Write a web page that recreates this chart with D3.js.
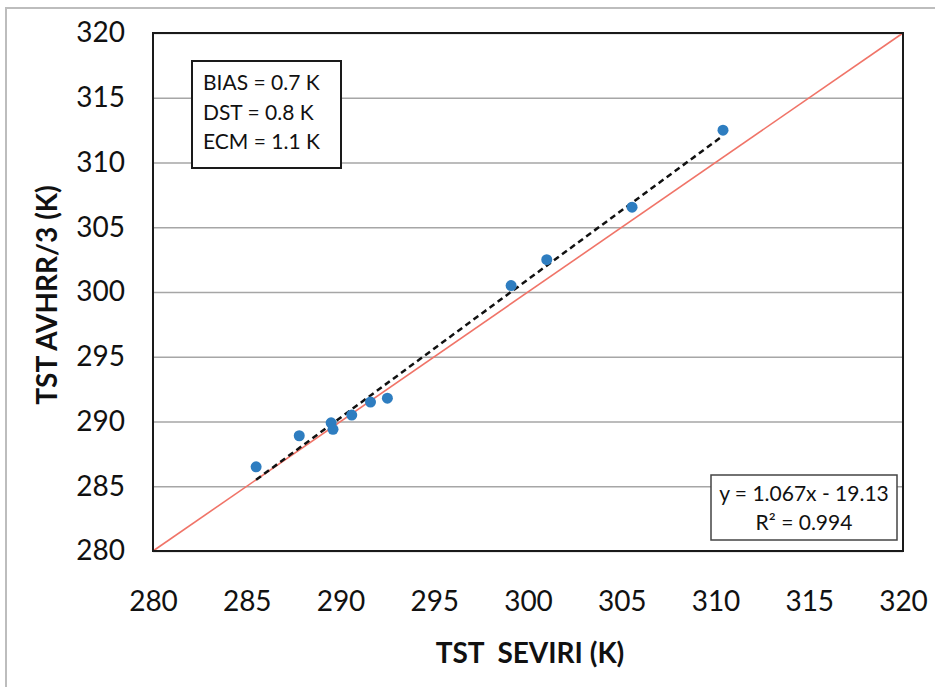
<!DOCTYPE html>
<html>
<head>
<meta charset="utf-8">
<script src="https://cdn.jsdelivr.net/npm/d3@7"></script>
<style>
  body { margin: 0; background: #fff; }
  text { font-family: Lato, "Open Sans", sans-serif; fill: #111; }
</style>
</head>
<body>
<div id="chart"></div>
<script>
// values
const seviri = [285.5, 287.8, 289.5, 289.6, 290.6, 291.6, 292.5, 299.1, 301.0, 305.55, 310.4];
const avhrr  = [286.5, 288.9, 289.9, 289.4, 290.5, 291.5, 291.8, 300.5, 302.5, 306.55, 312.5];
const ticks = [280, 285, 290, 295, 300, 305, 310, 315, 320];
const stats = ["BIAS = 0.7 K", "DST = 0.8 K", "ECM = 1.1 K"];
const fit = {slope: 1.067, intercept: -19.13, r2: 0.994};

const W = 935, H = 687;
const margin = {top: 33, right: 32, bottom: 136, left: 153};
const width = W - margin.left - margin.right;
const height = H - margin.top - margin.bottom;

const svg = d3.select("#chart").append("svg")
  .attr("width", W)
  .attr("height", H);

// outer chart frame (runs off the page at right and bottom)
svg.append("rect")
  .attr("x", 6).attr("y", 8)
  .attr("width", W).attr("height", H)
  .attr("fill", "none")
  .attr("stroke", "#bdbdbd")
  .attr("stroke-width", 2);

const g = svg.append("g")
  .attr("transform", "translate(" + margin.left + "," + margin.top + ")");

const x = d3.scaleLinear().domain([280, 320]).range([0, width]);
const y = d3.scaleLinear().domain([280, 320]).range([height, 0]);

// horizontal gridlines
g.append("g")
  .call(d3.axisLeft(y).tickValues(ticks).tickSize(-width).tickFormat(""))
  .call(a => a.select(".domain").remove())
  .call(a => a.selectAll("line").attr("stroke", "#a6a6a6").attr("stroke-width", 1.5));

// tick labels
g.append("g")
  .call(d3.axisLeft(y).tickValues(ticks).tickSize(0).tickPadding(28))
  .call(a => a.select(".domain").remove())
  .call(a => a.selectAll("text").attr("font-size", 28).style("font-family", "Lato"));

g.append("g")
  .attr("transform", "translate(0," + height + ")")
  .call(d3.axisBottom(x).tickValues(ticks).tickSize(0).tickPadding(40))
  .call(a => a.select(".domain").remove())
  .call(a => a.selectAll("text").attr("font-size", 28).style("font-family", "Lato"));

// 1:1 line
g.append("line")
  .attr("x1", x(280)).attr("y1", y(280))
  .attr("x2", x(320)).attr("y2", y(320))
  .attr("stroke", "#f07468")
  .attr("stroke-width", 1.6);

// trend line
const xmin = d3.min(seviri), xmax = d3.max(seviri);
g.append("line")
  .attr("x1", x(xmin)).attr("y1", y(fit.slope * xmin + fit.intercept))
  .attr("x2", x(xmax)).attr("y2", y(fit.slope * xmax + fit.intercept))
  .attr("stroke", "#111")
  .attr("stroke-width", 2.5)
  .attr("stroke-dasharray", "6,4");

// points
g.selectAll("circle")
  .data(seviri)
  .enter()
  .append("circle")
  .attr("cx", d => x(d))
  .attr("cy", (d, i) => y(avhrr[i]))
  .attr("r", 5.5)
  .attr("fill", "#2e7dc0");

// plot border
g.append("rect")
  .attr("width", width).attr("height", height)
  .attr("fill", "none")
  .attr("stroke", "#1a1a1a")
  .attr("stroke-width", 2);

// stats box
const sb = svg.append("g").attr("transform", "translate(192,61)");
sb.append("rect")
  .attr("width", 149).attr("height", 107)
  .attr("fill", "#fff")
  .attr("stroke", "#1a1a1a")
  .attr("stroke-width", 2);
sb.selectAll("text")
  .data(stats)
  .enter()
  .append("text")
  .attr("x", 11)
  .attr("y", (d, i) => 29 + i * 29.5)
  .attr("font-size", 21)
  .text(d => d);

// regression box
const rb = svg.append("g").attr("transform", "translate(711,475)");
rb.append("rect")
  .attr("width", 186).attr("height", 65)
  .attr("fill", "#fff")
  .attr("stroke", "#444")
  .attr("stroke-width", 1.5);
rb.append("text")
  .attr("x", 93).attr("y", 26)
  .attr("text-anchor", "middle")
  .attr("font-size", 21)
  .text("y = " + fit.slope + "x - " + Math.abs(fit.intercept));
rb.append("text")
  .attr("x", 93).attr("y", 55)
  .attr("text-anchor", "middle")
  .attr("font-size", 21)
  .text("R² = " + fit.r2);

// axis titles
svg.append("text")
  .attr("x", 530)
  .attr("y", 663)
  .attr("text-anchor", "middle")
  .attr("font-size", 28)
  .attr("font-weight", "bold")
  .style("white-space", "pre")
  .text("TST  SEVIRI (K)");

svg.append("text")
  .attr("transform", "translate(57," + (margin.top + height / 2 + 3) + ") rotate(-90)")
  .attr("text-anchor", "middle")
  .attr("font-size", 28)
  .attr("font-weight", "bold")
  .text("TST AVHRR/3 (K)");
</script>
</body>
</html>
